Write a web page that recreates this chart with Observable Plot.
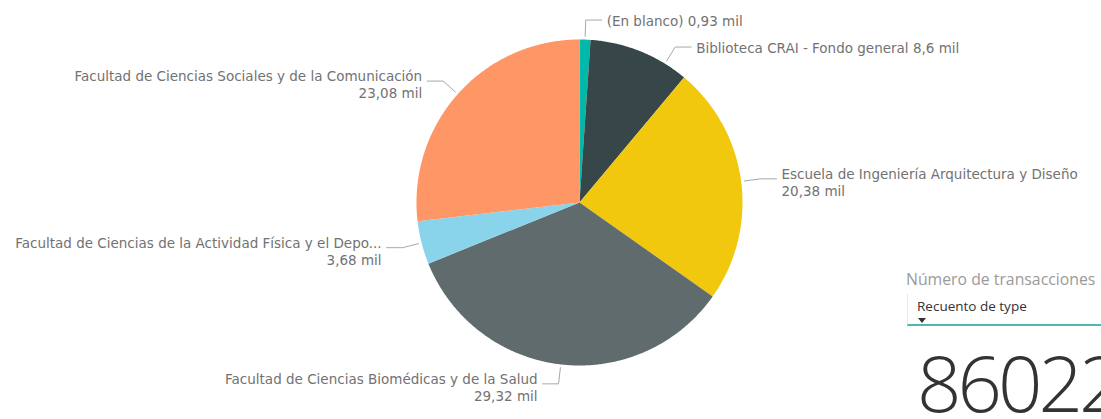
<!DOCTYPE html>
<html>
<head>
<meta charset="utf-8">
<script src="https://cdn.jsdelivr.net/npm/d3@7"></script>
<script src="https://cdn.jsdelivr.net/npm/@observablehq/plot@0.6"></script>
<style>
  html, body { margin: 0; padding: 0; background: #ffffff; }
  #wrap { position: relative; width: 1101px; height: 419px; overflow: hidden; }
  #chart svg { display: block; }
  .card-title { position: absolute; left: 906px; top: 268px; font-family: "Open Sans", sans-serif; font-size: 15.8px; color: #9a9a9a; white-space: nowrap; }
  .card-select { position: absolute; left: 907px; top: 294px; width: 194px; height: 32px; border-left: 1px solid #e6e6e6; border-bottom: 2px solid #4fb7ad; box-sizing: border-box; }
  .card-select span { position: absolute; left: 9px; top: 3px; font-family: "Open Sans", sans-serif; font-size: 13.5px; color: #333; white-space: nowrap; }
  .card-select i { position: absolute; left: 10px; top: 24px; width: 0; height: 0; border-left: 4px solid transparent; border-right: 4px solid transparent; border-top: 5px solid #333; }
  .card-value { position: absolute; left: 917px; top: 343px; font-family: "Open Sans", sans-serif; font-weight: 300; font-size: 78px; letter-spacing: -4px; line-height: 1; color: #333; white-space: nowrap; }
</style>
</head>
<body>
<div id="wrap">
  <div id="chart"></div>
  <div class="card-title" id="cardTitle"></div>
  <div class="card-select"><span id="cardField"></span><i></i></div>
  <div class="card-value" id="cardValue"></div>
</div>
<script>
// ---------- data ----------
const categories = [
  "(En blanco)",
  "Biblioteca CRAI - Fondo general",
  "Escuela de Ingeniería Arquitectura y Diseño",
  "Facultad de Ciencias Biomédicas y de la Salud",
  "Facultad de Ciencias de la Actividad Física y el Depo...",
  "Facultad de Ciencias Sociales y de la Comunicación"
];
const values = [0.93, 8.6, 20.38, 29.32, 3.68, 23.08]; // miles de transacciones
const unitSuffix = "mil";
const colors = ["#01B8AA", "#374649", "#F2C80F", "#5F6B6D", "#8AD4EB", "#FE9666"];
const cardTitle = "Número de transacciones";
const cardField = "Recuento de type";
const cardValue = 86022;

// ---------- derived ----------
const fmt = d3.formatLocale({decimal: ",", thousands: ".", grouping: [3], currency: ["", ""]}).format(".2~f");
const data = categories.map((c, i) => ({cat: c, value: values[i]}));
const arcs = d3.pie().sort(null).value(d => d.value)(data);

const slicePts = [];
for (const a of arcs) {
  slicePts.push({cat: a.data.cat, x: 0, y: 0});
  const n = Math.max(2, Math.ceil((a.endAngle - a.startAngle) / (Math.PI / 360)));
  for (let k = 0; k <= n; k++) {
    const t = a.startAngle + (a.endAngle - a.startAngle) * k / n;
    slicePts.push({cat: a.data.cat, x: Math.sin(t), y: Math.cos(t)});
  }
  slicePts.push({cat: a.data.cat, x: 0, y: 0});
}

// label layout (in data units of the unit circle)
const PX = 1 / 163;
const rStart = 1.02, rElbow = 1.12, seg = 16 * PX, gap = 5 * PX, minSep = 27 * PX;
const labels = arcs.map(a => {
  const mid = (a.startAngle + a.endAngle) / 2;
  const name = a.data.cat, val = fmt(a.data.value) + " " + unitSuffix;
  const two = name.length > 35;
  return {cat: name, side: Math.sin(mid) >= 0 ? 1 : -1, ey: rElbow * Math.cos(mid),
          text: two ? name + "\n" + val : name + " " + val, two};
});
for (const side of [1, -1]) {
  const L = labels.filter(d => d.side === side).sort((a, b) => b.ey - a.ey);
  for (let i = 1; i < L.length; i++) if (L[i - 1].ey - L[i].ey < minSep) L[i].ey = L[i - 1].ey - minSep;
}
const leaderPts = [];
for (const d of labels) {
  const ex = d.side * Math.sqrt(Math.max(0, rElbow * rElbow - d.ey * d.ey));
  d.ex = ex;
  d.tx = ex + d.side * (seg + gap);
  leaderPts.push({cat: d.cat, x: ex / rElbow * rStart, y: d.ey / rElbow * rStart});
  leaderPts.push({cat: d.cat, x: ex, y: d.ey});
  leaderPts.push({cat: d.cat, x: ex + d.side * seg, y: d.ey});
}

const textOpts = (side, two) => ({
  filter: d => d.side === side && d.two === two,
  x: "tx", y: "ey", text: "text",
  textAnchor: side > 0 ? "start" : "end",
  lineAnchor: "middle", lineHeight: 1.3,
  dy: two ? 3 : 0,
  fill: "#727272", fontSize: 13.5,
  fontFamily: "'DejaVu Sans', sans-serif"
});

const chart = Plot.plot({
  width: 1101, height: 419,
  marginLeft: 416, marginRight: 359, marginTop: 39, marginBottom: 54,
  x: {domain: [-1, 1], axis: null},
  y: {domain: [-1, 1], axis: null},
  color: {domain: categories, range: colors},
  style: {background: "#ffffff", overflow: "visible"},
  marks: [
    Plot.line(slicePts, {x: "x", y: "y", z: "cat", fill: "cat", stroke: "none", curve: "linear"}),
    Plot.line(leaderPts, {x: "x", y: "y", z: "cat", stroke: "#a8a8a8", strokeWidth: 1}),
    Plot.text(labels, textOpts(1, false)),
    Plot.text(labels, textOpts(1, true)),
    Plot.text(labels, textOpts(-1, false)),
    Plot.text(labels, textOpts(-1, true))
  ]
});
document.getElementById("chart").appendChild(chart);
document.getElementById("cardTitle").textContent = cardTitle;
document.getElementById("cardField").textContent = cardField;
document.getElementById("cardValue").textContent = String(cardValue);
</script>
</body>
</html>
